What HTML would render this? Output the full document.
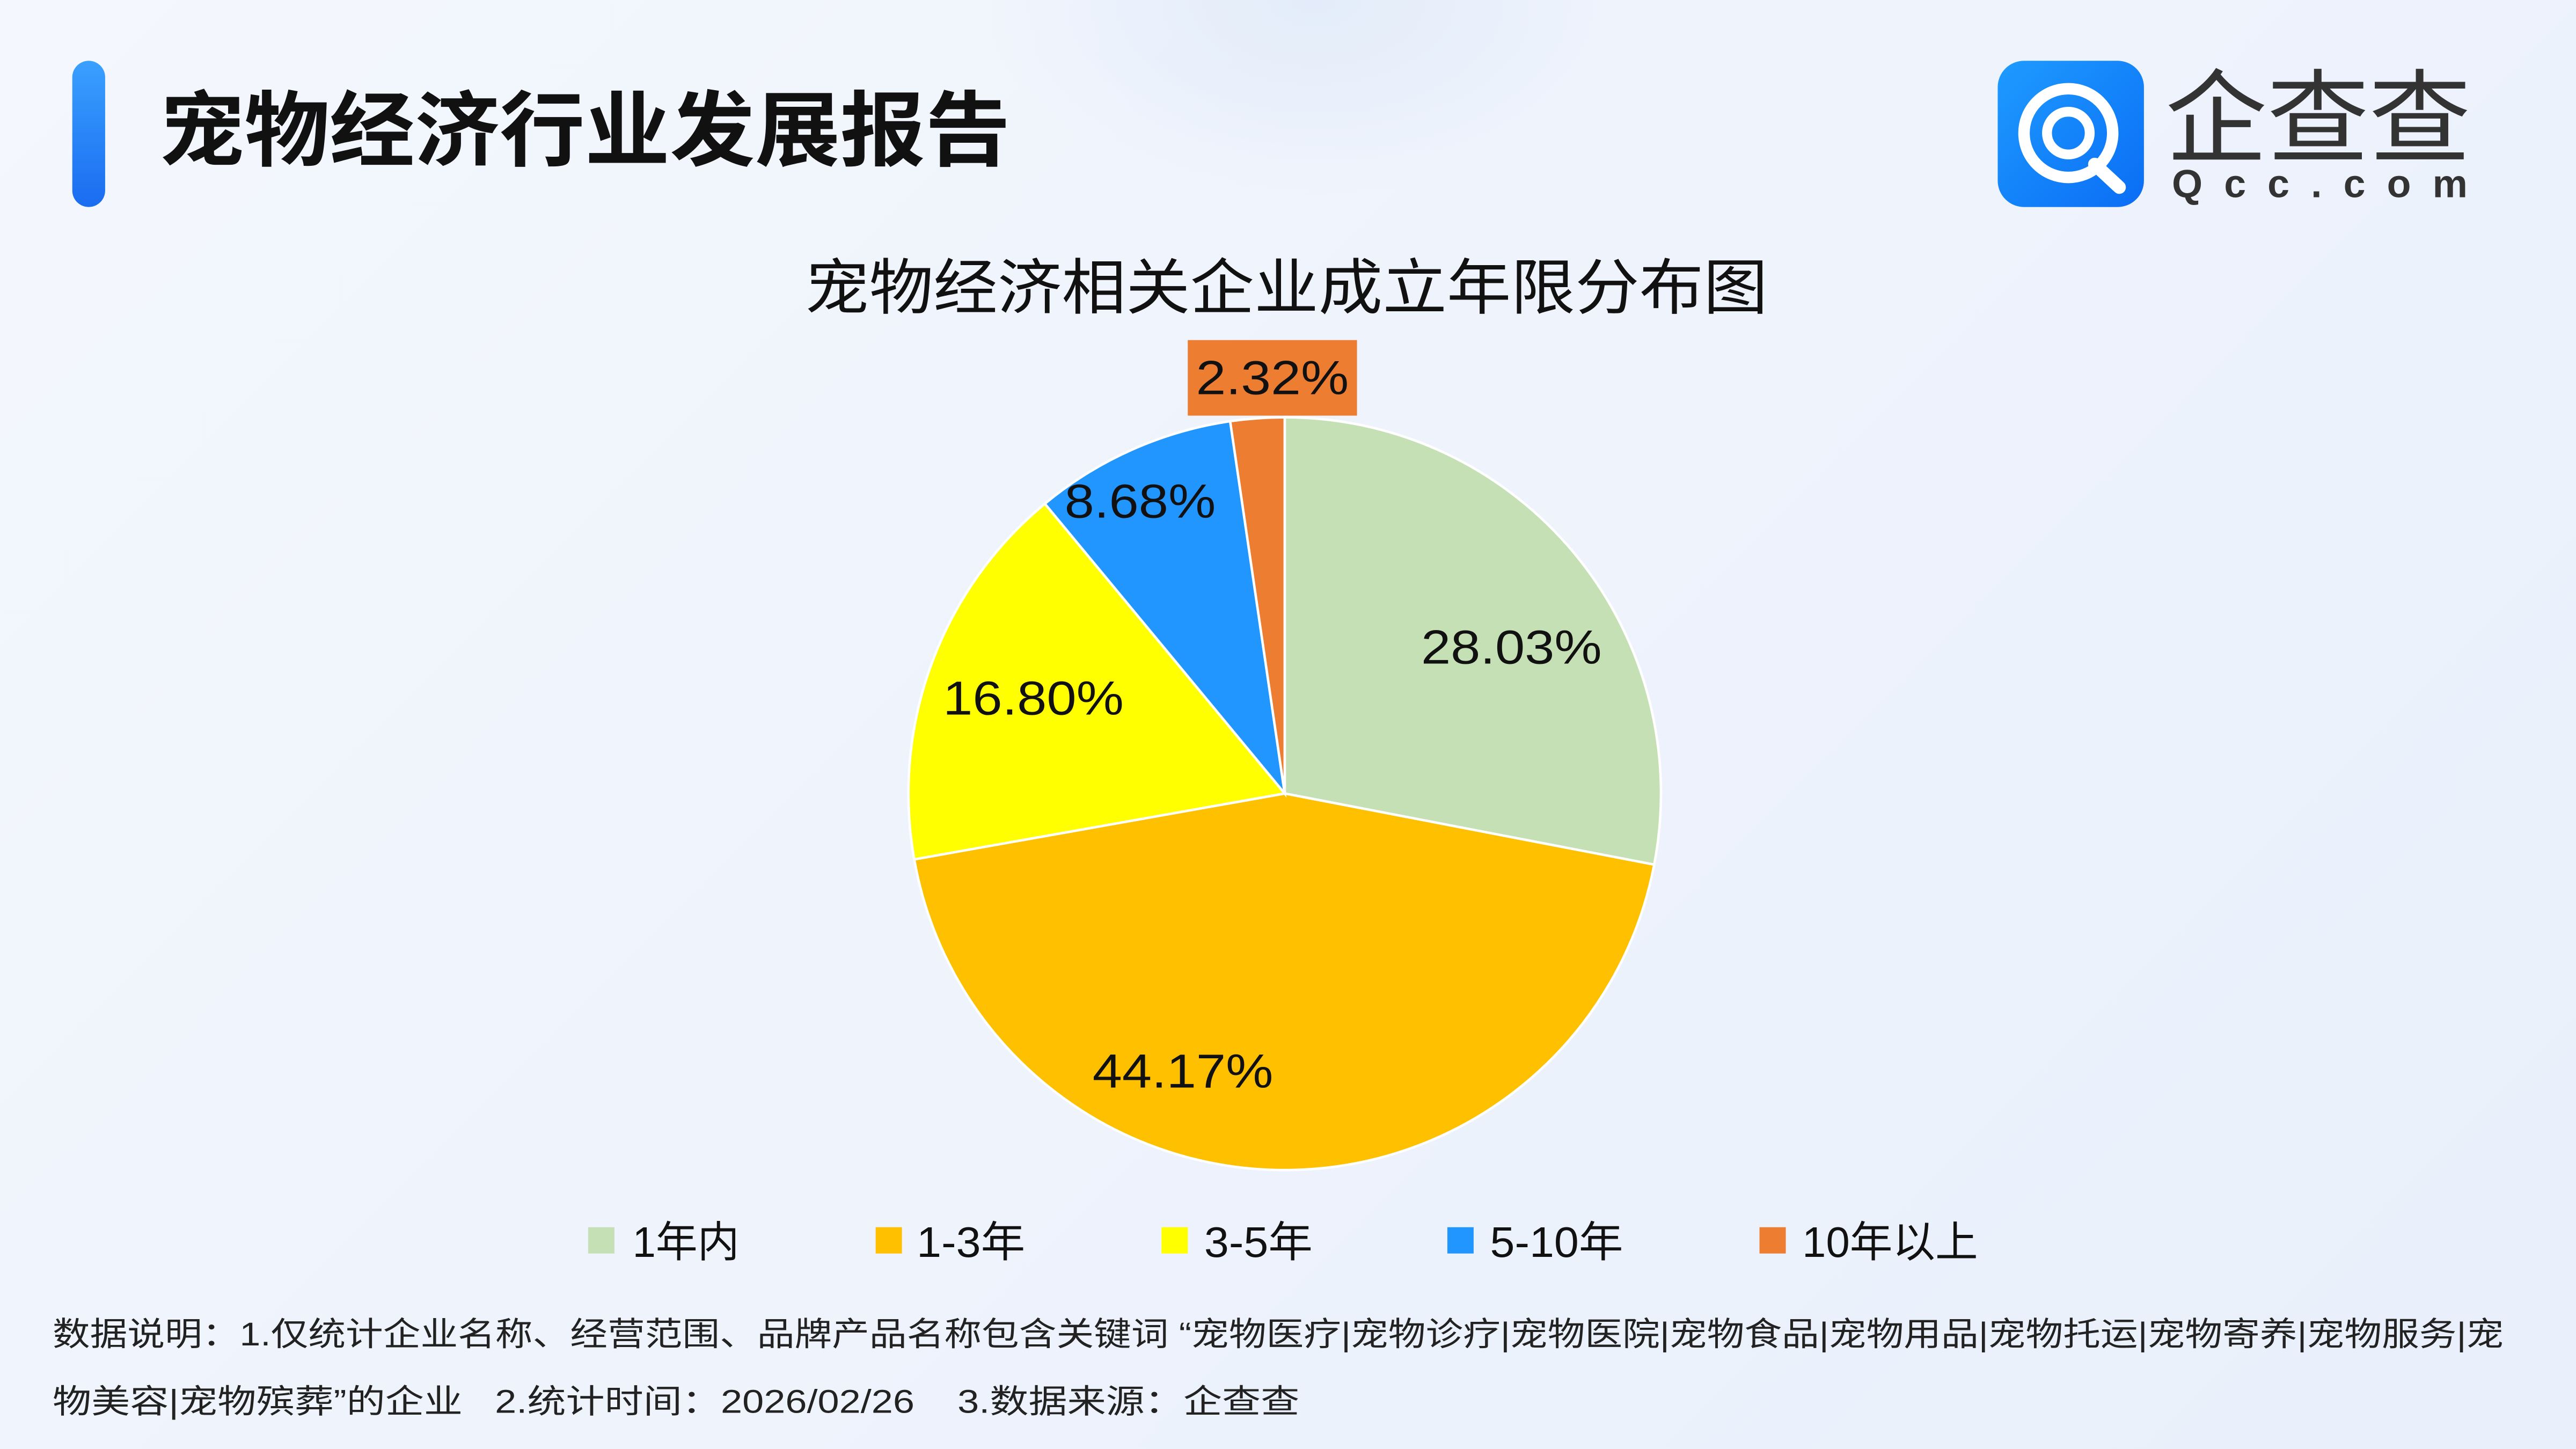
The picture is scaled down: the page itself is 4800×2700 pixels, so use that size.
<!DOCTYPE html>
<html><head><meta charset="utf-8"><style>
html,body{margin:0;padding:0;width:4800px;height:2700px;overflow:hidden;}
body{background:linear-gradient(135deg,#f4f7fd 0%,#eef3fc 50%,#e9f0fb 100%);}
svg{display:block;}
text{font-family:"Liberation Sans","Noto Sans CJK SC",sans-serif;}
</style></head><body>
<svg width="4800" height="2700" viewBox="0 0 1568 882" preserveAspectRatio="none" xmlns="http://www.w3.org/2000/svg">
<defs>
<linearGradient id="bar" x1="0" y1="0" x2="0" y2="1"><stop offset="0" stop-color="#3aa0ff"/><stop offset="1" stop-color="#1a6cf0"/></linearGradient>
<linearGradient id="logo" x1="0" y1="0" x2="1" y2="1"><stop offset="0" stop-color="#1e9bff"/><stop offset="1" stop-color="#0a6df5"/></linearGradient>
<radialGradient id="glow" cx="0.5" cy="0.5" r="0.5"><stop offset="0" stop-color="#e3ecfa"/><stop offset="1" stop-color="#e3ecfa" stop-opacity="0"/></radialGradient>
</defs>
<ellipse cx="800" cy="0" rx="200" ry="120" fill="url(#glow)"/>
<rect x="44" y="37" width="20" height="89" rx="10" fill="url(#bar)"/>
<text x="97" y="97" font-size="50" font-weight="bold" fill="#111" textLength="518" lengthAdjust="spacingAndGlyphs">宠物经济行业发展报告</text>
<rect x="1216" y="37" width="89" height="89" rx="16" fill="url(#logo)"/>
<circle cx="1259" cy="81" r="27" fill="none" stroke="#fff" stroke-width="7"/>
<circle cx="1259" cy="81" r="13" fill="none" stroke="#fff" stroke-width="6"/>
<path d="M1275 100 L1290 114" stroke="#fff" stroke-width="8" stroke-linecap="round"/>
<text x="1318" y="94" font-size="62" fill="#333" textLength="186" lengthAdjust="spacingAndGlyphs">企查查</text>
<text x="1322" y="120" font-size="24" font-weight="bold" fill="#333" textLength="180" lengthAdjust="spacing">Qcc.com</text>
<text x="490" y="188" font-size="37" fill="#111" textLength="586" lengthAdjust="spacingAndGlyphs">宠物经济相关企业成立年限分布图</text>
<g stroke="#fff" stroke-width="1.5">
<path d="M782 483 L782 254 A229 229 0 0 1 1006.9 526.3 Z" fill="#c5e0b4"/>
<path d="M782 483 L1006.9 526.3 A229 229 0 0 1 556.5 523.1 Z" fill="#ffc000"/>
<path d="M782 483 L556.5 523.1 A229 229 0 0 1 636.0 306.6 Z" fill="#ffff00"/>
<path d="M782 483 L636.0 306.6 A229 229 0 0 1 748.8 256.4 Z" fill="#2196ff"/>
<path d="M782 483 L748.8 256.4 A229 229 0 0 1 782 254 Z" fill="#ed7d31"/>
</g>
<g font-size="29" fill="#111">
<text x="865" y="404" textLength="110" lengthAdjust="spacingAndGlyphs">28.03%</text>
<text x="665" y="662" textLength="110" lengthAdjust="spacingAndGlyphs">44.17%</text>
<text x="574" y="435" textLength="110" lengthAdjust="spacingAndGlyphs">16.80%</text>
<text x="648" y="315" textLength="92" lengthAdjust="spacingAndGlyphs">8.68%</text>
<rect x="723" y="207" width="103" height="46" fill="#ed7d31"/>
<text x="728" y="240" textLength="93" lengthAdjust="spacingAndGlyphs">2.32%</text>
</g>
<g font-size="26" fill="#111">
<rect x="358" y="747" width="16" height="16" fill="#c5e0b4"/><text x="385" y="765" textLength="65" lengthAdjust="spacingAndGlyphs">1年内</text>
<rect x="533" y="747" width="16" height="16" fill="#ffc000"/><text x="558" y="765" textLength="66" lengthAdjust="spacingAndGlyphs">1-3年</text>
<rect x="707" y="747" width="16" height="16" fill="#ffff00"/><text x="733" y="765" textLength="66" lengthAdjust="spacingAndGlyphs">3-5年</text>
<rect x="881" y="747" width="16" height="16" fill="#2196ff"/><text x="907" y="765" textLength="81" lengthAdjust="spacingAndGlyphs">5-10年</text>
<rect x="1071" y="747" width="16" height="16" fill="#ed7d31"/><text x="1097" y="765" textLength="107" lengthAdjust="spacingAndGlyphs">10年以上</text>
</g>
<g font-size="20" fill="#222">
<text x="32" y="819" textLength="1492" lengthAdjust="spacingAndGlyphs">数据说明：1.仅统计企业名称、经营范围、品牌产品名称包含关键词 “宠物医疗|宠物诊疗|宠物医院|宠物食品|宠物用品|宠物托运|宠物寄养|宠物服务|宠</text>
<text x="32" y="860" textLength="759" lengthAdjust="spacingAndGlyphs">物美容|宠物殡葬”的企业&#160;&#160;&#160;2.统计时间：2026/02/26&#160;&#160;&#160;&#160;3.数据来源：企查查</text>
</g>
</svg>
</body></html>
